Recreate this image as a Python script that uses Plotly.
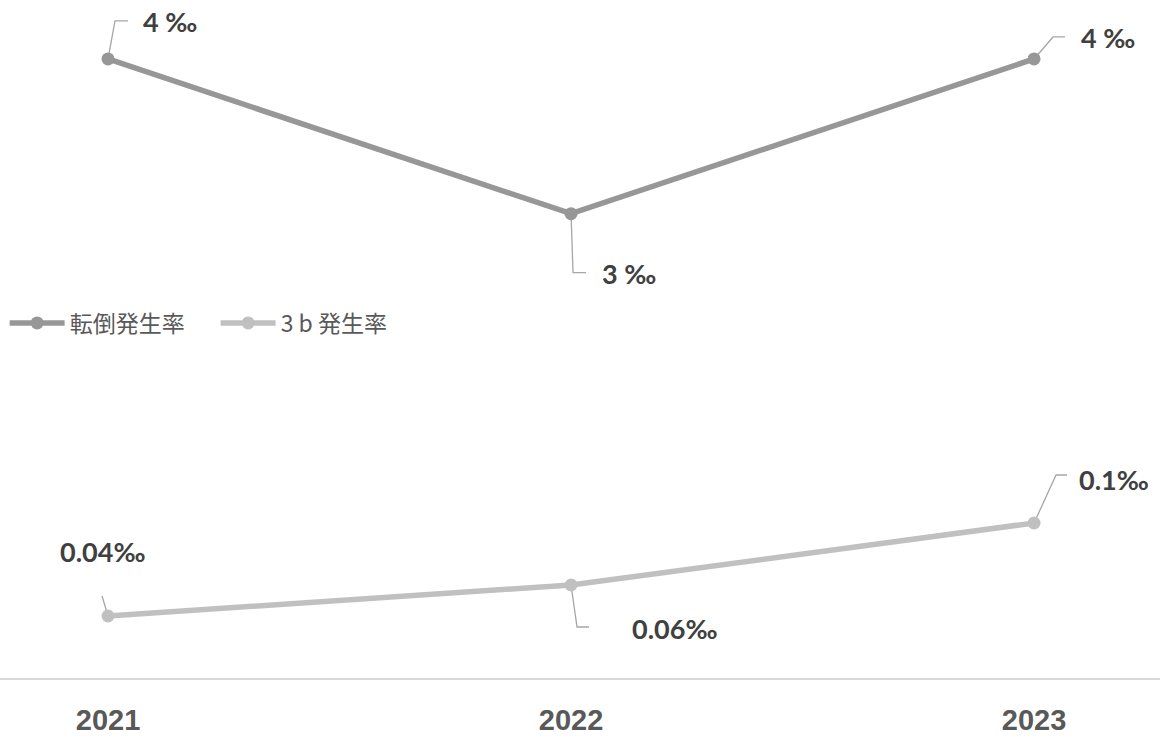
import plotly.graph_objects as go

years = ["2021", "2022", "2023"]
fall_rate = [4, 3, 4]
fall_labels = ["4 ‰", "3 ‰", "4 ‰"]
b3_rate = [0.04, 0.06, 0.1]
b3_labels = ["0.04‰", "0.06‰", "0.1‰"]
series_names = ["転倒発生率", "3 b 発生率"]

xs = list(range(len(years)))
c_fall = "#979797"
c_b3 = "#c0c0c0"
c_leader = "#a6a6a6"
c_label = "#404040"

fig = go.Figure()
fig.add_trace(go.Scatter(x=xs, y=fall_rate, name=series_names[0], mode="lines+markers",
                         line=dict(color=c_fall, width=5.5), marker=dict(size=13, color=c_fall),
                         yaxis="y", hoverinfo="skip"))
fig.add_trace(go.Scatter(x=xs, y=b3_rate, name=series_names[1], mode="lines+markers",
                         line=dict(color=c_b3, width=5.5), marker=dict(size=13, color=c_b3),
                         yaxis="y2", hoverinfo="skip"))

# leader path (pixels, y up) and label offsets per point
fall_leaders = ["M0,0 L7,38 L20,38", "M0,0 L2,-59 L15,-59", "M0,0 L19,22 L31,22"]
fall_offsets = [(33, 37, "left"), (29, -60, "left"), (45, 21, "left")]
b3_leaders = ["M0,0 L-6,20", "M0,0 L6,-42 L18,-42", "M0,0 L22,48 L33,48"]
b3_offsets = [(-6, 65, "center"), (59, -43, "left"), (43, 43, "left")]

shapes = []
annotations = []
for vals, labels, leaders, offsets, yref in [
    (fall_rate, fall_labels, fall_leaders, fall_offsets, "y"),
    (b3_rate, b3_labels, b3_leaders, b3_offsets, "y2"),
]:
    for i, v in enumerate(vals):
        shapes.append(dict(type="path", path=leaders[i], xref="x", yref=yref,
                           xsizemode="pixel", ysizemode="pixel", xanchor=xs[i], yanchor=v,
                           line=dict(color=c_leader, width=1.3), layer="below"))
        dx, dy, anc = offsets[i]
        annotations.append(dict(x=xs[i], y=v, xref="x", yref=yref, text=labels[i],
                                showarrow=False, xshift=dx, yshift=dy, xanchor=anc,
                                yanchor="middle",
                                font=dict(family="Lato, Noto Sans, sans-serif", size=27,
                                          color=c_label, weight="bold")))

fig.update_layout(
    width=1160, height=747,
    margin=dict(l=0, r=0, t=0, b=69),
    paper_bgcolor="white", plot_bgcolor="white",
    showlegend=True,
    legend=dict(orientation="h", x=0.004, xanchor="left", y=0.5236, yanchor="middle",
                font=dict(family="Noto Sans CJK JP", size=23, color="#595959"),
                bgcolor="rgba(0,0,0,0)", itemwidth=55,
                entrywidth=141, entrywidthmode="pixels"),
    xaxis=dict(range=[-0.2333, 2.272], tickvals=xs, ticktext=years, showgrid=False,
               zeroline=False, showline=True, linecolor="#d9d9d9", linewidth=2,
               ticks="", ticklabelstandoff=15,
               tickfont=dict(family="Liberation Sans Narrow, Liberation Sans, sans-serif",
                             size=29, color="#595959", weight="bold")),
    yaxis=dict(range=[0, 4.381], visible=False, showgrid=False, zeroline=False),
    yaxis2=dict(range=[0, 0.4374], overlaying="y", visible=False, showgrid=False,
                zeroline=False),
    shapes=shapes,
    annotations=annotations,
)

fig.write_html("out.html", config={"displayModeBar": False},
               post_script="document.body.style.margin='0';document.body.style.padding='0';")
